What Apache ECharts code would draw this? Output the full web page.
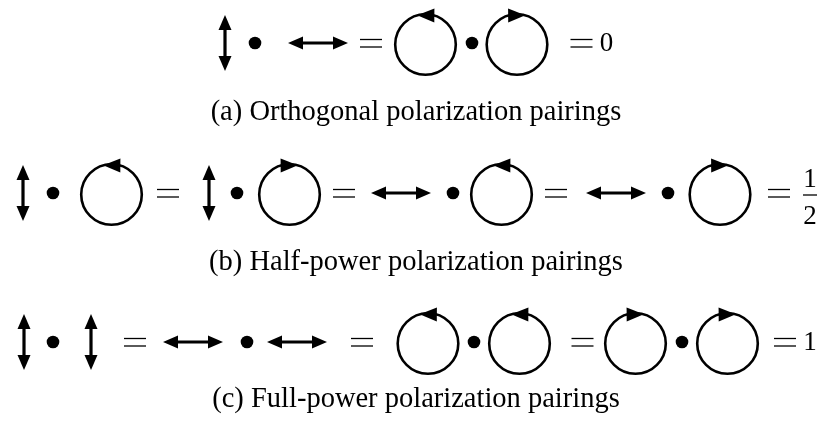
<!DOCTYPE html>
<html>
<head>
<meta charset="utf-8">
<script src="https://cdn.jsdelivr.net/npm/echarts@6/dist/echarts.min.js"></script>
<style>
html, body { margin: 0; padding: 0; background: #fff; }
#chart { width: 820px; height: 421px; }
</style>
</head>
<body>
<div id="chart"></div>
<script>
// vertical centre of each equation row and of each caption
const rowY = [43, 193, 342]
const captionY = [113, 263, 400]
const captions = [
  '(a) Orthogonal polarization pairings',
  '(b) Half-power polarization pairings',
  '(c) Full-power polarization pairings'
]

// v = vertical arrow, h = horizontal arrow, ccw / cw = circular, eq = equals sign
const rowAGlyphs = ['v', 'dot', 'h', 'eq', 'ccw', 'dot', 'cw', 'eq']
const rowAX = [225, 255, 318, 371, 425.5, 472, 517, 581.5]
const rowBGlyphs = ['v', 'dot', 'ccw', 'eq', 'v', 'dot', 'cw', 'eq', 'h', 'dot', 'ccw', 'eq', 'h', 'dot', 'cw', 'eq']
const rowBX = [23, 53, 111.5, 168, 209, 237, 289.5, 344, 401, 453, 501.5, 556, 616, 668, 720, 779]
const rowCGlyphs = ['v', 'dot', 'v', 'eq', 'h', 'dot', 'h', 'eq', 'ccw', 'dot', 'ccw', 'eq', 'cw', 'dot', 'cw', 'eq']
const rowCX = [24, 53, 91, 135, 193, 247, 297, 362, 428, 474, 519.5, 582.5, 635.5, 682, 727.5, 785]

// right-hand values of each row
const results = ['0', '1/2', '1']
const resultX = [606.5, 810, 810]

const font = '"Liberation Serif", "DejaVu Serif", serif'

const items = []
;[[rowAGlyphs, rowAX], [rowBGlyphs, rowBX], [rowCGlyphs, rowCX]].forEach(([g, xs], r) => {
  g.forEach((kind, i) => items.push({ kind, x: xs[i], y: rowY[r] }))
  items.push({ kind: 'value', x: resultX[r], y: rowY[r], text: results[r] })
  items.push({ kind: 'caption', x: 416, y: captionY[r], text: captions[r] })
})

const black = '#000'

function arrowHead (tip, base, half) {
  const dx = tip[0] - base[0]
  const dy = tip[1] - base[1]
  const len = Math.hypot(dx, dy)
  const nx = -dy / len * half
  const ny = dx / len * half
  return {
    type: 'polygon',
    shape: { points: [tip, [base[0] + nx, base[1] + ny], [base[0] - nx, base[1] - ny]] },
    style: { fill: black }
  }
}

function doubleArrow (len, vertical) {
  const h = len / 2
  const head = 15
  const p = (a) => (vertical ? [0, a] : [a, 0])
  return [
    { type: 'line', shape: { x1: p(-h + head - 2)[0], y1: p(-h + head - 2)[1], x2: p(h - head + 2)[0], y2: p(h - head + 2)[1] }, style: { stroke: black, lineWidth: 3.2 } },
    arrowHead(p(-h), p(-h + head), 6.5),
    arrowHead(p(h), p(h - head), 6.5)
  ]
}

function circular (dir) {
  const r = 30.3
  const s = dir === 'ccw' ? 1 : -1
  const deg = Math.PI / 180
  const tip = [-s * r * Math.sin(16 * deg), -r * Math.cos(16 * deg)]
  const base = [s * r * Math.sin(17 * deg), -r * Math.cos(17 * deg)]
  return [
    { type: 'circle', shape: { cx: 0, cy: 1.5, r }, style: { fill: 'none', stroke: black, lineWidth: 2.6 } },
    arrowHead([tip[0], tip[1] + 1.5], [base[0], base[1] + 1.5], 7)
  ]
}

function renderItem (params, api) {
  const d = items[params.dataIndex]
  const p = api.coord([d.x, d.y])
  let children = []
  switch (d.kind) {
    case 'v': children = doubleArrow(56, true); break
    case 'h': children = doubleArrow(60, false); break
    case 'dot': children = [{ type: 'circle', shape: { cx: 0, cy: 0, r: 6.3 }, style: { fill: black } }]; break
    case 'ccw':
    case 'cw': children = circular(d.kind); break
    case 'eq':
      children = [-3.5, 4].map(o => ({
        type: 'line', shape: { x1: -11, y1: o, x2: 11, y2: o }, style: { stroke: black, lineWidth: 1.3 }
      }))
      break
    case 'value':
      if (d.text.includes('/')) {
        const [num, den] = d.text.split('/')
        children = [
          { type: 'text', style: { text: num, x: 0, y: -13, align: 'center', verticalAlign: 'middle', font: '27px ' + font, fill: black } },
          { type: 'line', shape: { x1: -7, y1: 2, x2: 7, y2: 2 }, style: { stroke: black, lineWidth: 1.3 } },
          { type: 'text', style: { text: den, x: 0, y: 24, align: 'center', verticalAlign: 'middle', font: '27px ' + font, fill: black } }
        ]
      } else {
        children = [{ type: 'text', style: { text: d.text, x: 0, y: 1, align: 'center', verticalAlign: 'middle', font: '27px ' + font, fill: black } }]
      }
      break
    case 'caption':
      children = [{ type: 'text', style: { text: d.text, x: 0, y: 0, align: 'center', verticalAlign: 'middle', font: '28.5px ' + font, fill: black } }]
      break
  }
  return { type: 'group', x: p[0], y: p[1], children }
}

const chart = echarts.init(document.getElementById('chart'), null, { renderer: 'canvas' })
chart.setOption({
  animation: false,
  backgroundColor: '#fff',
  grid: { left: 0, right: 0, top: 0, bottom: 0 },
  xAxis: { type: 'value', min: 0, max: 820, show: false },
  yAxis: { type: 'value', min: 0, max: 421, inverse: true, show: false },
  series: [
    {
      type: 'custom',
      renderItem,
      silent: true,
      data: items.map(d => [d.x, d.y])
    }
  ]
})
window.addEventListener('resize', () => chart.resize())
</script>
</body>
</html>
